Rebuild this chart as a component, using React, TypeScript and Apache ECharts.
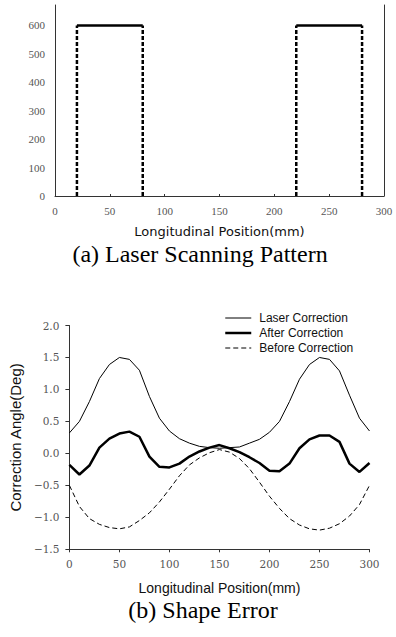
import React, { useEffect, useRef } from "react";
import * as echarts from "echarts";

// (a) Laser scanning pattern
const scanStart = [20, 220];
const scanEnd = [80, 280];
const scanPower = [600, 600];

// (b) Shape error
const positions = [0, 10, 20, 30, 40, 50, 60, 70, 80, 90, 100, 110, 120, 130, 140, 150, 160, 170, 180, 190, 200, 210, 220, 230, 240, 250, 260, 270, 280, 290, 300];
const laserCorrection = [0.32, 0.5, 0.81, 1.17, 1.39, 1.5, 1.47, 1.3, 0.89, 0.55, 0.35, 0.23, 0.16, 0.11, 0.09, 0.08, 0.09, 0.1, 0.16, 0.22, 0.33, 0.5, 0.81, 1.16, 1.39, 1.5, 1.47, 1.29, 0.91, 0.55, 0.35];
const afterCorrection = [-0.18, -0.33, -0.19, 0.09, 0.23, 0.31, 0.34, 0.26, -0.05, -0.21, -0.22, -0.16, -0.05, 0.03, 0.09, 0.13, 0.08, 0.02, -0.06, -0.15, -0.27, -0.28, -0.16, 0.08, 0.22, 0.28, 0.28, 0.18, -0.16, -0.29, -0.15];
const beforeCorrection = [-0.5, -0.83, -1.02, -1.11, -1.16, -1.18, -1.15, -1.05, -0.93, -0.76, -0.56, -0.35, -0.18, -0.07, 0.01, 0.06, 0.02, -0.08, -0.24, -0.45, -0.67, -0.86, -1.02, -1.12, -1.18, -1.2, -1.17, -1.1, -0.98, -0.8, -0.5];
const seriesNames = ["Laser Correction", "After Correction", "Before Correction"];

export default function App() {
  const ref = useRef<HTMLDivElement>(null);
  useEffect(() => {
    if (!ref.current) return;
    const chart = echarts.init(ref.current, null, { renderer: "svg" });

    const topSeries: any[] = [];
    scanStart.forEach((s, i) => {
      const e = scanEnd[i];
      const p = scanPower[i];
      topSeries.push({
        type: "line", xAxisIndex: 0, yAxisIndex: 0, symbol: "none", silent: true,
        data: [[s, p], [e, p]],
        lineStyle: { color: "#000", width: 2.5, type: "solid" },
      });
      [s, e].forEach((xv) => {
        topSeries.push({
          type: "line", xAxisIndex: 0, yAxisIndex: 0, symbol: "none", silent: true,
          data: [[xv, 0], [xv, p]],
          lineStyle: { color: "#000", width: 2.5, type: [4, 2] },
        });
      });
    });

    const mk = (vals: number[]) => positions.map((x, i) => [x, vals[i]]);
    const styles = [
      { color: "#000", width: 1, type: "solid" },
      { color: "#000", width: 2.5, type: "solid" },
      { color: "#000", width: 1, type: [5, 3] },
    ];
    const data = [laserCorrection, afterCorrection, beforeCorrection];

    chart.setOption({
      animation: false,
      grid: [
        { left: 55, top: 5, right: 12, bottom: 441 },
        { left: 67, top: 325.5, right: 26.5, bottom: 87.7 },
      ],
      xAxis: [
        {
          type: "value", gridIndex: 0, min: 0, max: 300, interval: 50,
          name: "Longitudinal Position(mm)", nameLocation: "middle", nameGap: 29,
          nameTextStyle: { fontFamily: "DejaVu Sans", fontSize: 13, color: "#111" },
          axisLine: { show: true, onZero: false, lineStyle: { color: "#333", width: 1 } },
          axisTick: { show: true, inside: true, length: 2, lineStyle: { color: "#333" } },
          axisLabel: { fontFamily: "Liberation Serif", fontSize: 11, color: "#555", margin: 9 },
          splitLine: { show: false },
        },
        {
          type: "value", gridIndex: 1, min: 0, max: 300, interval: 50,
          name: "Longitudinal Position(mm)", nameLocation: "middle", nameGap: 32,
          nameTextStyle: { fontFamily: "Liberation Sans", fontSize: 14, color: "#111" },
          axisLine: { show: true, onZero: false, lineStyle: { color: "#333", width: 1 } },
          axisTick: { show: true, length: 3, lineStyle: { color: "#333" } },
          axisLabel: { fontFamily: "DejaVu Serif", fontSize: 10.5, color: "#555", margin: 9 },
          splitLine: { show: false },
        },
      ],
      yAxis: [
        {
          type: "value", gridIndex: 0, min: 0, max: 672, interval: 100,
          axisLine: { show: true, onZero: false, lineStyle: { color: "#333", width: 1 } },
          axisTick: { show: false },
          axisLabel: { fontFamily: "Liberation Serif", fontSize: 11, color: "#555", margin: 10, showMaxLabel: false },
          splitLine: { show: false },
        },
        {
          type: "value", gridIndex: 0, min: 0, max: 672, interval: 100, position: "right",
          axisLine: { show: true, onZero: false, lineStyle: { color: "#333", width: 1 } },
          axisTick: { show: false }, axisLabel: { show: false }, splitLine: { show: false },
        },
        {
          type: "value", gridIndex: 1, min: -1.5, max: 2.0, interval: 0.5,
          name: "Correction Angle(Deg)", nameLocation: "middle", nameGap: 42,
          nameTextStyle: { fontFamily: "Liberation Sans", fontSize: 15, color: "#111" },
          axisLine: { show: true, onZero: false, lineStyle: { color: "#333", width: 1 } },
          axisTick: { show: true, length: 4, lineStyle: { color: "#333" } },
          axisLabel: {
            fontFamily: "DejaVu Serif", fontSize: 10.5, color: "#555", margin: 10,
            formatter: (v: number) => (v < 0 ? "\u2212" + Math.abs(v).toFixed(1) : v.toFixed(1)),
          },
          splitLine: { show: false },
        },
      ],
      legend: {
        data: seriesNames.map((n, i) => ({ name: n, itemStyle: { opacity: 0 }, lineStyle: { ...styles[i] } })),
        orient: "vertical", left: 219, top: 307,
        itemWidth: 26, itemHeight: 12, itemGap: 3,
        itemStyle: { opacity: 0 },
        textStyle: { fontFamily: "Liberation Sans", fontSize: 12, color: "#111", padding: [0, 0, 0, 3] },
      },
      graphic: [
        { type: "text", x: 200, y: 254, style: { text: "(a) Laser Scanning Pattern", fontFamily: "Liberation Serif", fontSize: 24, fill: "#000", align: "center", verticalAlign: "middle" } },
        { type: "text", x: 203, y: 610, style: { text: "(b) Shape Error", fontFamily: "Liberation Serif", fontSize: 24, fill: "#000", align: "center", verticalAlign: "middle" } },
      ],
      series: [
        ...topSeries,
        ...seriesNames.map((n, i) => ({
          name: n, type: "line", xAxisIndex: 1, yAxisIndex: 2, symbol: "none",
          data: mk(data[i]), lineStyle: styles[i], itemStyle: { color: "#000" },
        })),
      ],
    });
    return () => chart.dispose();
  }, []);
  return <div ref={ref} style={{ position: "fixed", left: 0, top: 0, width: 396, height: 637, background: "#fff" }} />;
}
